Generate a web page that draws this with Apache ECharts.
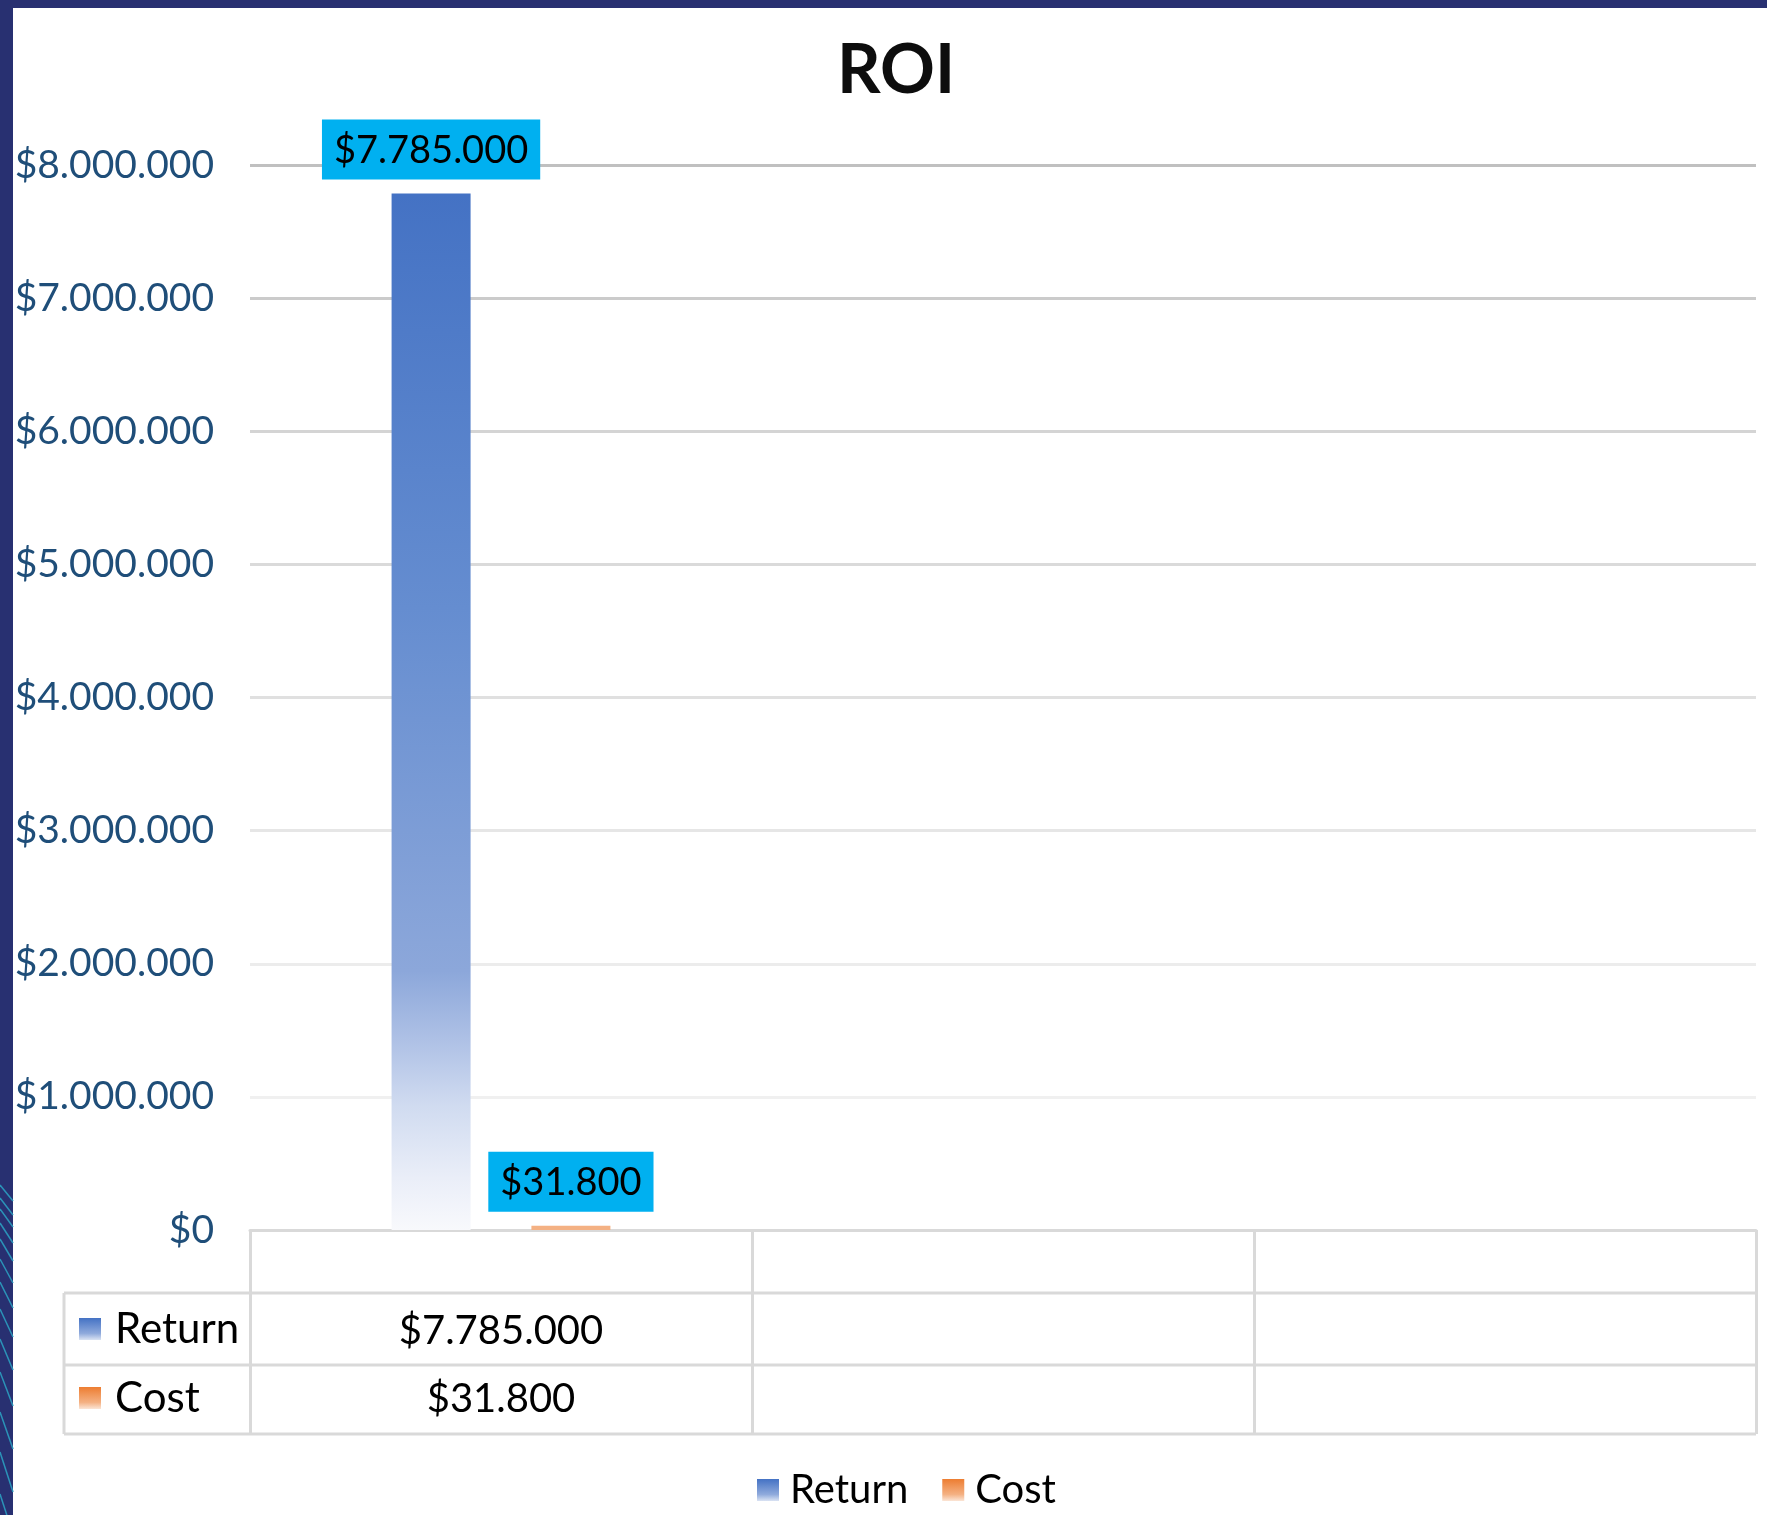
<!DOCTYPE html>
<html>
<head>
<meta charset="utf-8">
<title>ROI</title>
<script src="https://cdn.jsdelivr.net/npm/echarts@6/dist/echarts.min.js"></script>
<style>
  html, body { margin: 0; padding: 0; background: #fff; }
  #chart { width: 1767px; height: 1515px; }
</style>
</head>
<body>
<div id="chart"></div>
<script>
// data
const categories = ["", "", ""];
const seriesNames = ["Return", "Cost"];
const returnValues = [7785000, null, null];
const costValues = [31800, null, null];
const yMin = 0;
const yMax = 8000000;
const yStep = 1000000;

const FONT = "Lato, 'Open Sans', sans-serif";
const GRID_LEFT = 250;
const GRID_RIGHT = 11;
const GRID_TOP = 165;
const AXIS_Y = 1230;
const ROW_LINES = [1293, 1365, 1434];
const TABLE_LEFT = 64;

const money = (v) => (v === null || v === undefined) ? " " : "$" + String(v).replace(/\B(?=(\d{3})+(?!\d))/g, ".");

const returnGradient = new echarts.graphic.LinearGradient(0, 0, 0, 1, [
  { offset: 0, color: "#4472c4" },
  { offset: 0.4, color: "#658dd0" },
  { offset: 0.75, color: "#8ca7da" },
  { offset: 0.82, color: "#b0c2e6" },
  { offset: 0.88, color: "#d0dbf0" },
  { offset: 0.95, color: "#eaeef8" },
  { offset: 1, color: "#f8f9fc" },
]);
const returnKey = () => new echarts.graphic.LinearGradient(0, 0, 0, 1, [
  { offset: 0, color: "#4472c4" },
  { offset: 0.7, color: "#8faadc" },
  { offset: 1, color: "#dae3f3" },
]);
const costKey = () => new echarts.graphic.LinearGradient(0, 0, 0, 1, [
  { offset: 0, color: "#ed7d31" },
  { offset: 0.7, color: "#f4b183" },
  { offset: 1, color: "#fbe5d6" },
]);

// faded gridlines, darker towards the top
const gridColors = ["#d9d9d9", "#f0f0f0", "#ececec", "#e6e6e6", "#e0e0e0", "#dadada", "#d4d4d4", "#cbcbcb", "#c0c0c0"];

const chart = echarts.init(document.getElementById("chart"));

// frame + decoration + data table head
const graphics = [
  { type: "rect", shape: { x: 0, y: 0, width: 1767, height: 8 }, style: { fill: "#283071" }, z: 10 },
  { type: "rect", shape: { x: 0, y: 0, width: 13, height: 1515 }, style: { fill: "#283071" }, z: 10 },
];
const stripes = [[1185, 16], [1198, 17], [1209, 18], [1223, 20], [1239, 22], [1259, 24], [1282, 26], [1309, 28], [1339, 31], [1372, 34], [1412, 37], [1452, 40], [1494, 40]];
stripes.forEach(([y, dy]) => {
  graphics.push({ type: "line", shape: { x1: 0, y1: y, x2: 13, y2: y + dy }, style: { stroke: "#2b93b8", lineWidth: 1.5 }, z: 11 });
});
ROW_LINES.forEach((y) => {
  graphics.push({ type: "line", shape: { x1: TABLE_LEFT, y1: y, x2: 1767 - GRID_RIGHT, y2: y }, style: { stroke: "#d9d9d9", lineWidth: 3 }, z: 5 });
});
graphics.push({ type: "line", shape: { x1: TABLE_LEFT, y1: ROW_LINES[0], x2: TABLE_LEFT, y2: ROW_LINES[2] }, style: { stroke: "#d9d9d9", lineWidth: 3 }, z: 5 });
[[seriesNames[0], returnKey(), 1329], [seriesNames[1], costKey(), 1398]].forEach(([name, fill, cy]) => {
  graphics.push({ type: "rect", shape: { x: 79, y: cy - 11, width: 22, height: 22 }, style: { fill: fill }, z: 5 });
  graphics.push({ type: "text", x: 115, y: cy, style: { text: name, font: "42px " + FONT, fill: "#000", verticalAlign: "middle" }, z: 5 });
});

const option = {
  animation: false,
  backgroundColor: "#fff",
  textStyle: { fontFamily: FONT },
  title: {
    text: "ROI",
    left: 896,
    top: 37,
    padding: 0,
    textAlign: "center",
    textStyle: { fontSize: 68, fontWeight: "bold", color: "#0d0d0d", fontFamily: FONT },
  },
  legend: {
    data: [
      { name: seriesNames[0], itemStyle: { color: returnKey() } },
      { name: seriesNames[1], itemStyle: { color: costKey() } },
    ],
    left: 757,
    top: 1470,
    padding: 0,
    icon: "rect",
    itemWidth: 22,
    itemHeight: 22,
    itemGap: 34,
    textStyle: { fontSize: 40, color: "#000", fontFamily: FONT, padding: [0, 0, 0, 6] },
  },
  grid: { left: GRID_LEFT, right: GRID_RIGHT, top: GRID_TOP, bottom: 1515 - AXIS_Y, containLabel: false },
  xAxis: {
    type: "category",
    data: categories,
    axisLine: { lineStyle: { color: "#d9d9d9", width: 3 } },
    axisTick: { show: true, interval: 0, length: ROW_LINES[2] - AXIS_Y, lineStyle: { color: "#d9d9d9", width: 3 } },
    axisLabel: {
      interval: 0,
      margin: -1,
      fontSize: 40,
      lineHeight: 68,
      color: "#000",
      formatter: (v, i) => (v || " ") + "\n" + money(returnValues[i]) + "\n" + money(costValues[i]),
    },
  },
  yAxis: {
    type: "value",
    min: yMin,
    max: yMax,
    interval: yStep,
    axisLine: { show: false },
    axisTick: { show: false },
    axisLabel: { margin: 36, fontSize: 39, color: "#1f4e79", formatter: (v) => money(v) },
    splitLine: { lineStyle: { color: gridColors, width: 3 } },
  },
  series: [
    {
      name: seriesNames[0],
      type: "bar",
      data: returnValues,
      barWidth: 79,
      barGap: "77%",
      itemStyle: { color: returnGradient },
      label: {
        show: true,
        position: "top",
        distance: 14,
        backgroundColor: "#00b0f0",
        padding: [12, 12, 10, 12],
        fontSize: 38,
        color: "#000",
        formatter: (p) => money(p.value),
      },
    },
    {
      name: seriesNames[1],
      type: "bar",
      data: costValues,
      barWidth: 79,
      itemStyle: { color: "#f4b183" },
      label: {
        show: true,
        position: "top",
        distance: 14,
        backgroundColor: "#00b0f0",
        padding: [12, 12, 10, 12],
        fontSize: 38,
        color: "#000",
        formatter: (p) => money(p.value),
      },
    },
  ],
  graphic: graphics,
};

chart.setOption(option);
</script>
</body>
</html>
